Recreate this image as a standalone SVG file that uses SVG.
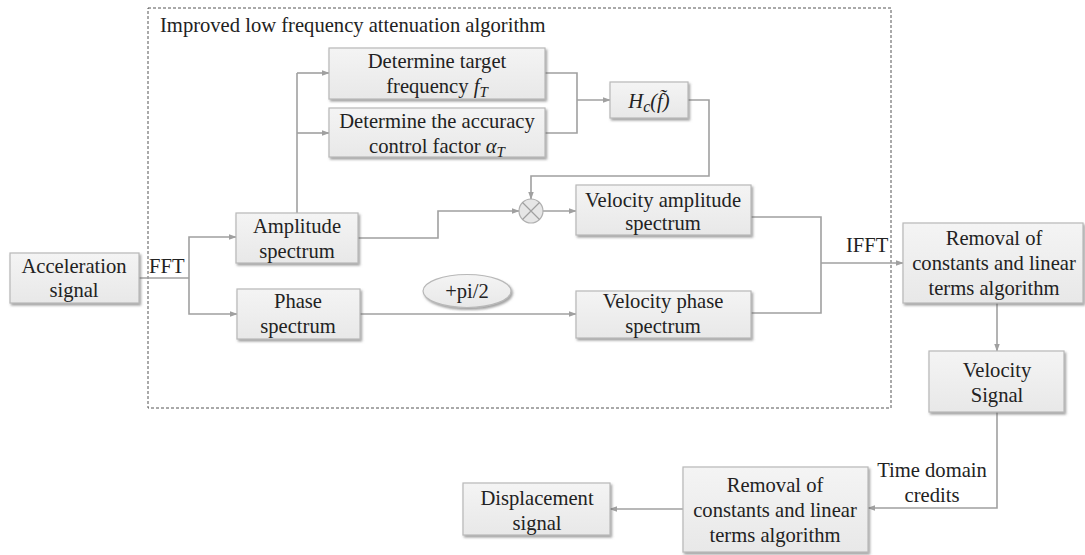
<svg xmlns="http://www.w3.org/2000/svg" width="1085" height="555" viewBox="0 0 1085 555">
<defs>
<linearGradient id="g" x1="0" y1="0" x2="0" y2="1"><stop offset="0" stop-color="#f4f4f4"/><stop offset="1" stop-color="#e8e8e8"/></linearGradient>
<filter id="sh" x="-10%" y="-10%" width="130%" height="140%"><feDropShadow dx="1.5" dy="2" stdDeviation="1" flood-color="#666" flood-opacity="0.6"/></filter>
<marker id="ar" viewBox="0 0 10 10" refX="9" refY="5" markerWidth="8" markerHeight="8" markerUnits="userSpaceOnUse" orient="auto"><path d="M0,1.5 L10,5 L0,8.5 Z" fill="#a0a0a0"/></marker>
</defs>
<style>
.b{fill:url(#g);stroke:#b8b8b8;stroke-width:1.2;filter:url(#sh)}
.c{fill:none;stroke:#a0a0a0;stroke-width:1.6}
.a{marker-end:url(#ar)}
</style>
<rect width="1085" height="555" fill="#fff"/>
<g id="frame">
<rect x="148" y="8" width="743" height="400" fill="none" stroke="#555" stroke-width="1" stroke-dasharray="3,2"/>
<text x="160" y="32" font-family="Liberation Serif, serif" font-size="20.6" fill="#222">Improved low frequency attenuation algorithm</text>
</g>
<g id="connectors">
<path class="c" d="M139,278 H189"/>
<path class="c a" d="M189,278 V237 H236"/>
<path class="c a" d="M189,278 V314 H237"/>
<path class="c" d="M297,213 V73"/>
<path class="c a" d="M297,73 H329"/>
<path class="c a" d="M297,133 H329"/>
<path class="c" d="M545,73 H577 V133 H545"/>
<path class="c a" d="M577,100 H610"/>
<path class="c a" d="M688,100 H709 V176 H531 V199"/>
<path class="c a" d="M358,238 H438 V211 H519"/>
<path class="c a" d="M543,211 H576"/>
<path class="c a" d="M360,314 H576"/>
<path class="c" d="M751,217 H821 V313 H751"/>
<path class="c a" d="M821,263 H903"/>
<path class="c a" d="M997,303 V351"/>
<path class="c a" d="M997,412 V508 H868"/>
<path class="c a" d="M683,509 H610"/>
<g font-family="Liberation Serif, serif" font-size="20.6" fill="#222">
<text x="149" y="273">FFT</text>
<text x="846" y="252">IFFT</text>
<text x="932" y="477" text-anchor="middle">Time domain</text>
<text x="932" y="502" text-anchor="middle">credits</text>
</g>
</g>
<g font-family="Liberation Serif, serif" font-size="20.6" fill="#222" text-anchor="middle">
<g id="acc"><rect class="b" x="10" y="253" width="129" height="50"/><text x="74" y="273">Acceleration</text><text x="74" y="297">signal</text></g>
<g id="amp"><rect class="b" x="236" y="213" width="122" height="50"/><text x="297" y="233">Amplitude</text><text x="297" y="258">spectrum</text></g>
<g id="phase"><rect class="b" x="237" y="289" width="123" height="50"/><text x="298" y="308">Phase</text><text x="298" y="333">spectrum</text></g>
<g id="target"><rect class="b" x="329" y="48" width="216" height="51"/><text x="437" y="68">Determine target</text><text x="437" y="93">frequency <tspan font-style="italic">f</tspan><tspan font-style="italic" font-size="15" dy="4">T</tspan></text></g>
<g id="accuracy"><rect class="b" x="329" y="108" width="216" height="49"/><text x="437" y="128">Determine the accuracy</text><text x="437" y="153">control factor <tspan font-style="italic">α</tspan><tspan font-style="italic" font-size="15" dy="4">T</tspan></text></g>
<g id="hc"><rect class="b" x="610" y="82" width="78" height="36"/><text x="649" y="108" font-style="italic">H<tspan font-size="16" dy="4">c</tspan><tspan dy="-4">(f̃)</tspan></text></g>
<g id="mult"><circle cx="531" cy="211" r="12" fill="#e6e6e6" stroke="#b0b0b0" stroke-width="1.2"/><path d="M522.5,202.5 L539.5,219.5 M539.5,202.5 L522.5,219.5" stroke="#a0a0a0" stroke-width="1.2"/></g>
<g id="pi2"><ellipse cx="467" cy="291" rx="44" ry="16.5" fill="url(#g)" stroke="#b8b8b8" stroke-width="1.2" filter="url(#sh)"/><text x="467" y="298">+pi/2</text></g>
<g id="vamp"><rect class="b" x="576" y="185" width="175" height="50"/><text x="663" y="207">Velocity amplitude</text><text x="663" y="230">spectrum</text></g>
<g id="vphase"><rect class="b" x="576" y="291" width="175" height="47"/><text x="663" y="308">Velocity phase</text><text x="663" y="333">spectrum</text></g>
<g id="removal1"><rect class="b" x="903" y="223" width="180" height="80"/><text x="994" y="245">Removal of</text><text x="994" y="270">constants and linear</text><text x="994" y="295">terms algorithm</text></g>
<g id="vsig"><rect class="b" x="929" y="351" width="135" height="61"/><text x="997" y="377">Velocity</text><text x="997" y="402">Signal</text></g>
<g id="removal2"><rect class="b" x="683" y="467" width="185" height="85"/><text x="775" y="492">Removal of</text><text x="775" y="517">constants and linear</text><text x="775" y="542">terms algorithm</text></g>
<g id="disp"><rect class="b" x="463" y="483" width="147" height="52"/><text x="537" y="505">Displacement</text><text x="537" y="530">signal</text></g>
</g>
</svg>
